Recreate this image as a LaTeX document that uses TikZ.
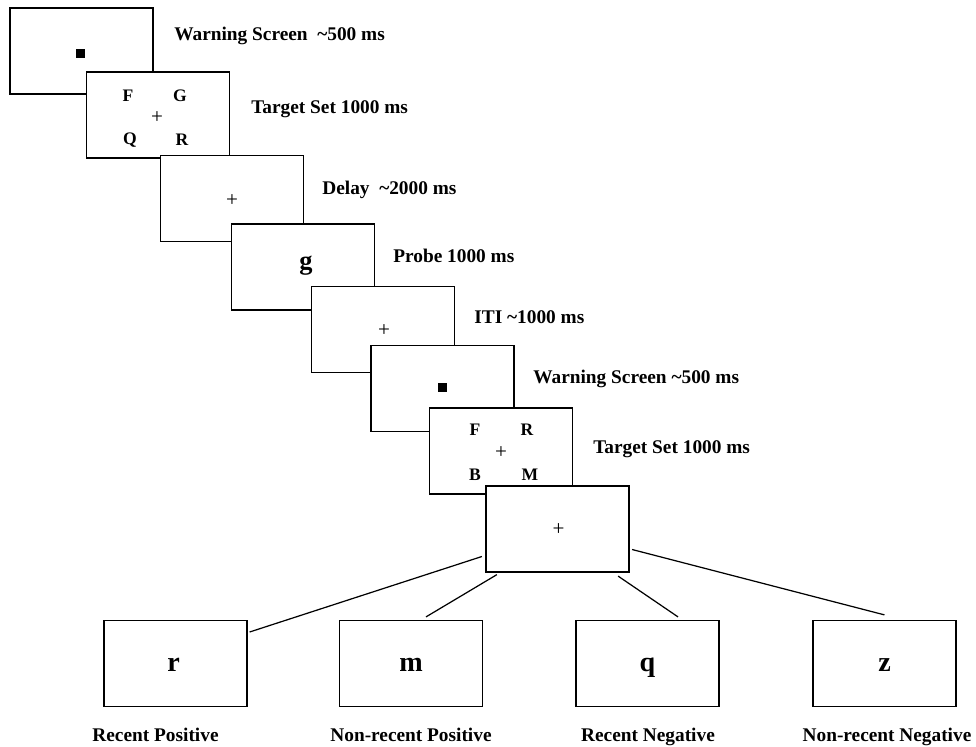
\documentclass[tikz,border=0pt]{standalone}
\usepackage{fontspec}
\setmainfont{Liberation Serif}
\begin{document}
\begin{tikzpicture}[
  screen/.style={draw, line width=0.7pt, fill=white, minimum width=2.86cm, minimum height=1.72cm, inner sep=0pt},
  caption/.style={anchor=base west, inner sep=0pt, font=\fontsize{11}{13}\selectfont\bfseries},
  outcome/.style={anchor=base, inner sep=0pt, font=\fontsize{11}{13}\selectfont\bfseries},
  letter/.style={inner sep=0pt, font=\fontsize{10}{12}\selectfont\bfseries},
  probe/.style={anchor=base, inner sep=0pt, font=\fontsize{16}{18}\selectfont\bfseries},
  fixation/.style={inner sep=0pt, font=\fontsize{12}{14}\selectfont},
  warnsquare/.style={fill=black, minimum size=0.18cm, inner sep=0pt},
  link/.style={line width=0.7pt}
]
\useasboundingbox (0,0) rectangle (19.52,-14.92);

% First trial
\node[screen] (warn1) at (1.63,-1.02) {};
\node[warnsquare] (dot1) at ([shift={(-0.02,-0.04)}]warn1) {};
\node[caption] (lab1) at (3.48,-0.80) {Warning Screen\ \ \textasciitilde500 ms};

\node[screen] (set1) at (3.16,-2.30) {};
\node[letter] (f1) at ([shift={(-0.60,0.38)}]set1) {F};
\node[letter] (g1) at ([shift={(0.44,0.38)}]set1) {G};
\node[fixation] (plus1) at ([shift={(-0.02,-0.06)}]set1) {+};
\node[letter] (q1) at ([shift={(-0.56,-0.50)}]set1) {Q};
\node[letter] (r1) at ([shift={(0.48,-0.50)}]set1) {R};
\node[caption] (lab2) at (5.02,-2.26) {Target Set 1000 ms};

\node[screen] (delay) at (4.64,-3.97) {};
\node[fixation] (plus2) at ([shift={(0,-0.04)}]delay) {+};
\node[caption] (lab3) at (6.44,-3.88) {Delay\ \ \textasciitilde2000 ms};

\node[screen] (probe1) at (6.06,-5.34) {};
\node[probe, font=\fontsize{15}{17}\selectfont\bfseries] (pg) at ([shift={(0.06,-0.04)}]probe1) {g};
\node[caption] (lab4) at (7.86,-5.24) {Probe 1000 ms};

\node[screen] (iti) at (7.66,-6.59) {};
\node[fixation] (plus3) at ([shift={(0.02,-0.02)}]iti) {+};
\node[caption] (lab5) at (9.48,-6.46) {ITI \textasciitilde1000 ms};

% Second trial
\node[screen] (warn2) at (8.85,-7.77) {};
\node[warnsquare] (dot2) at ([shift={(-0.01,0.02)}]warn2) {};
\node[caption] (lab6) at (10.66,-7.66) {Warning Screen \textasciitilde500 ms};

\node[screen] (set2) at (10.02,-9.02) {};
\node[letter] (f2) at ([shift={(-0.52,0.42)}]set2) {F};
\node[letter] (r2) at ([shift={(0.52,0.42)}]set2) {R};
\node[fixation] (plus4) at ([shift={(0,-0.04)}]set2) {+};
\node[letter] (b2) at ([shift={(-0.52,-0.48)}]set2) {B};
\node[letter] (m2) at ([shift={(0.58,-0.48)}]set2) {M};
\node[caption] (lab7) at (11.86,-9.06) {Target Set 1000 ms};

\node[screen] (fix) at (11.15,-10.58) {};
\node[fixation] (plus5) at ([shift={(0.02,-0.02)}]fix) {+};

% Probe types
\node[screen] (recpos) at (3.51,-13.27) {};
\node[screen] (nonpos) at (8.22,-13.27) {};
\node[screen] (recneg) at (12.95,-13.27) {};
\node[screen] (nonneg) at (17.69,-13.27) {};
\node[probe] (pr) at ([shift={(-0.04,-0.16)}]recpos) {r};
\node[probe] (pm) at ([shift={(0,-0.16)}]nonpos) {m};
\node[probe] (pq) at ([shift={(0,-0.16)}]recneg) {q};
\node[probe] (pz) at ([shift={(0,-0.16)}]nonneg) {z};
\node[outcome] (cap1) at (3.11,-14.83) {Recent Positive};
\node[outcome] (cap2) at (8.22,-14.83) {Non-recent Positive};
\node[outcome] (cap3) at (12.96,-14.83) {Recent Negative};
\node[outcome] (cap4) at (17.74,-14.83) {Non-recent Negative};

\draw[link] ([shift={(-0.07,-0.55)}]fix.west) -- ([shift={(0.04,0.63)}]recpos.east);
\draw[link] ([shift={(0.23,-0.04)}]fix.south west) -- ([shift={(0.30,0.06)}]nonpos.north);
\draw[link] ([shift={(-0.23,-0.07)}]fix.south east) -- ([shift={(0.61,0.06)}]recneg.north);
\draw[link] ([shift={(0.05,-0.41)}]fix.east) -- ([shift={(0,0.10)}]nonneg.north);
\end{tikzpicture}
\end{document}
